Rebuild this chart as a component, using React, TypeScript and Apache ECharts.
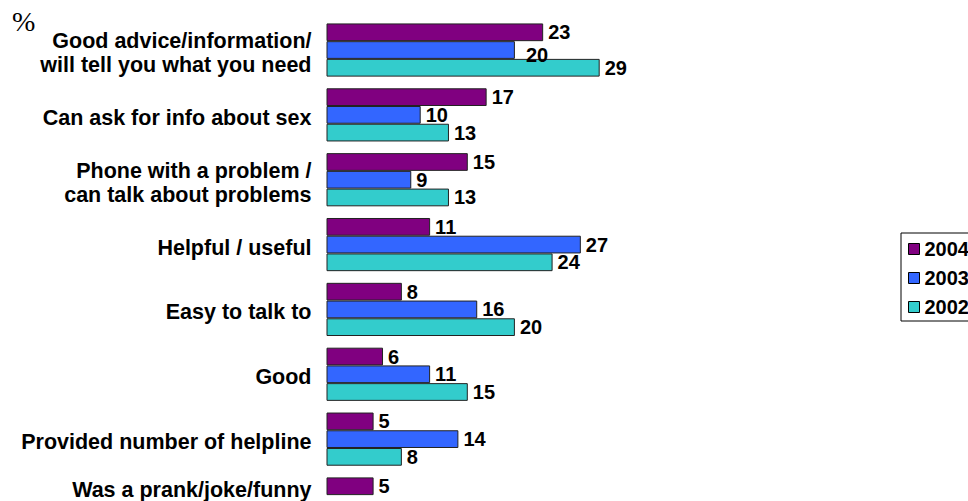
import React, { useEffect, useRef } from "react";
import * as echarts from "echarts";

const categories = [
  "Good advice/information/\nwill tell you what you need",
  "Can ask for info about sex",
  "Phone with a problem /\ncan talk about problems",
  "Helpful / useful",
  "Easy to talk to",
  "Good",
  "Provided number of helpline",
  "Was a prank/joke/funny",
];
const seriesNames = ["2004", "2003", "2002"];
const values2004 = [23, 17, 15, 11, 8, 6, 5, 5];
const values2003: (number | null)[] = [20, 10, 9, 27, 16, 11, 14, null];
const values2002: (number | null)[] = [29, 13, 13, 24, 20, 15, 8, null];
const colors = ["#800080", "#3366FF", "#33CCCC"];

const FONT = "Liberation Sans, Arial, sans-serif";

export default function App() {
  const ref = useRef<HTMLDivElement>(null);
  useEffect(() => {
    if (!ref.current) return;
    const chart = echarts.init(ref.current, undefined, { renderer: "svg" });
    const lists = [values2004, values2003, values2002];
    const series = lists.map((vals, si) => ({
      name: seriesNames[si],
      type: "bar",
      barGap: "0%",
      barCategoryGap: "18%",
      itemStyle: { color: colors[si], borderColor: "#222", borderWidth: 1 },
      label: {
        show: true,
        position: "right",
        distance: 5,
        color: "#000",
        fontFamily: FONT,
        fontWeight: "bold",
        fontSize: 20,
      },
      data: vals.map((v, i) => {
        if (v === null) return "-";
        if (si === 1 && i === 0) {
          return { value: v, label: { offset: [6, 5] } };
        }
        return v;
      }),
    }));
    chart.setOption({
      animation: false,
      grid: {
        left: 326.5,
        top: 17.6,
        width: 282.6,
        height: 518.8,
        containLabel: false,
        outerBoundsMode: "none",
      },
      xAxis: {
        type: "value",
        min: 0,
        max: 30,
        show: false,
      },
      yAxis: {
        type: "category",
        inverse: true,
        data: categories,
        axisLine: { show: false },
        axisTick: { show: false },
        splitLine: { show: false },
        axisLabel: {
          margin: 15,
          color: "#000",
          fontFamily: FONT,
          fontWeight: "bold",
          fontSize: 21.5,
          lineHeight: 24,
          align: "right",
          padding: [6, 0, 0, 0],
          formatter: (val: string, idx: number) =>
            idx === 7 ? "{up|" + val + "}" : val,
          rich: {
            up: {
              fontFamily: FONT,
              fontWeight: "bold",
              fontSize: 21.5,
              color: "#000",
              padding: [0, 0, 34, 0],
            },
          },
        },
      },
      legend: {
        orient: "vertical",
        left: 901,
        top: 233,
        data: seriesNames,
        padding: [6, 10, 4, 7],
        itemWidth: 11,
        itemHeight: 11,
        itemGap: 9,
        borderColor: "#000",
        borderWidth: 1,
        icon: "rect",
        itemStyle: { borderColor: "#000", borderWidth: 1 },
        textStyle: {
          color: "#000",
          fontFamily: FONT,
          fontWeight: "bold",
          fontSize: 20,
        },
      },
      graphic: [
        {
          type: "text",
          left: 12,
          top: 7,
          style: {
            text: "%",
            fontFamily: "Liberation Serif, Times New Roman, serif",
            fontSize: 28,
            fill: "#000",
          },
        },
      ],
      series,
    });
    return () => chart.dispose();
  }, []);
  return (
    <div
      ref={ref}
      style={{ position: "fixed", left: 0, top: 0, width: 968, height: 501, background: "#fff" }}
    />
  );
}
